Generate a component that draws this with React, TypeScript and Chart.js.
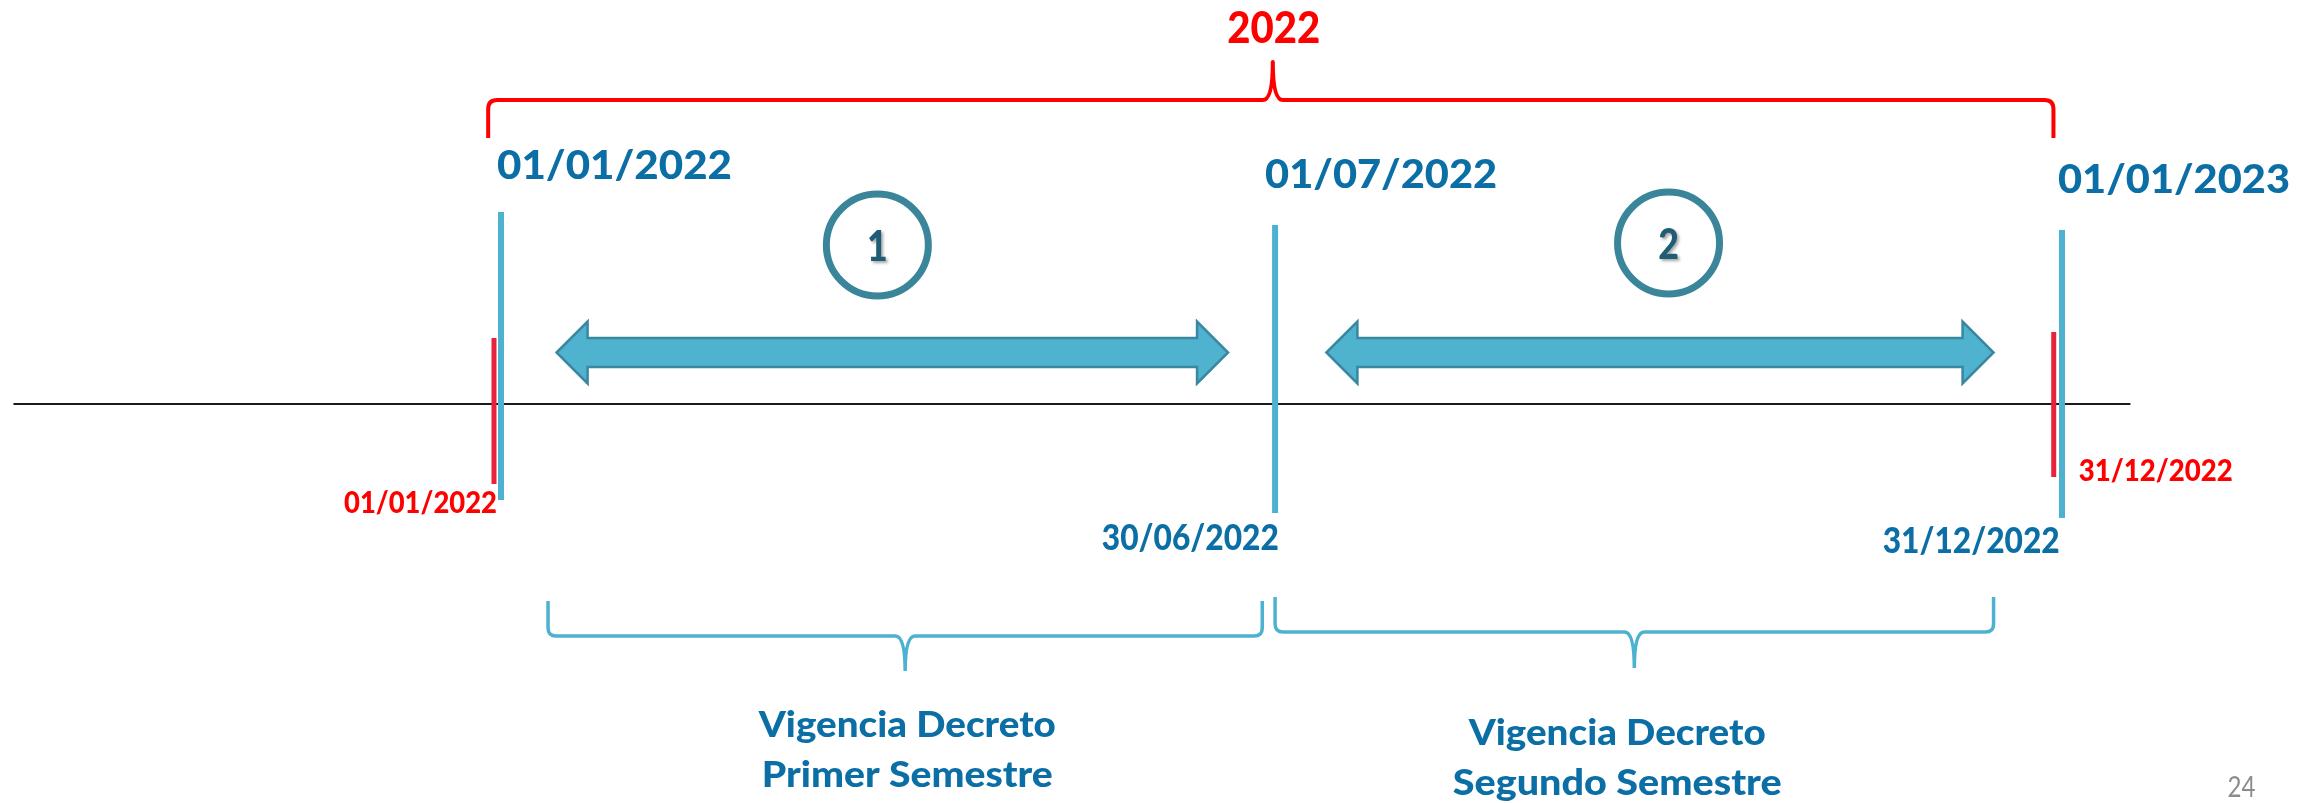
import React, { useEffect, useRef } from "react";
import { Chart, registerables } from "chart.js";
Chart.register(...registerables);

// ---- Data (x values in days of 2022: 0 = 01/01/2022, 365 = 01/01/2023) ----
const boundaryDays = [0, 181, 365];
const boundaryTopLabels = ["01/01/2022", "01/07/2022", "01/01/2023"];
const endDays = [180, 364];
const endLabels = ["30/06/2022", "31/12/2022"];
const yearMarkDays = [0, 364];
const yearMarkLabels = ["01/01/2022", "31/12/2022"];
const yearTitle = "2022";
const yearSpanDays = [-3, 363];
const periodNumbers = ["1", "2"];
const periodCircleDays = [88, 273];
const arrowStartDays = [13, 193];
const arrowEndDays = [170, 349];
const braceStartDays = [11, 181];
const braceEndDays = [178, 349];
const periodLabelDays = [95, 261];
const periodLabelLine1 = ["Vigencia Decreto", "Vigencia Decreto"];
const periodLabelLine2 = ["Primer Semestre", "Segundo Semestre"];
const axisRangeDays = [-114, 381];
const pageNumber = "24";

// ---- Layout / style (y values are in the y scale, 0 = top, 803 = bottom) ----
const W = 2315;
const H = 803;
const FONT = '"Lato", "Open Sans", sans-serif';
const BOLD = "900";
const BLUE = "#0b6fa6";
const LINE_BLUE = "#4db2cf";
const RED = "#ff0000";
const RED_BAR = "#e8223c";
const BASELINE_Y = 404;
const BLUE_LINE_Y = [
  [212, 500],
  [225, 513],
  [230, 518],
];
const RED_LINE_Y = [
  [338, 484],
  [332, 477],
];
const RED_LINE_DX = [-7, -4];
const TOP_LABEL = [
  { dx: -4, base: 179, w: 235 },
  { dx: -10, base: 188, w: 232 },
  { dx: -4, base: 193, w: 232 },
];
const END_LABEL = [
  { dx: 8, base: 550, w: 177 },
  { dx: 2, base: 553, w: 177 },
];
const RED_LABEL = [
  { dx: -4, base: 513, w: 153, align: "right" as CanvasTextAlign },
  { dx: 21, base: 481, w: 154, align: "left" as CanvasTextAlign },
];
const CIRCLE_Y = [245, 243];
const ARROW_Y = 352.5;
const BRACE_Y = [
  { top: 601, mid: 636, tip: 671 },
  { top: 597, mid: 632, tip: 668 },
];
const LABEL_BASE = [
  [737, 787],
  [745, 795],
];
const LABEL_W = [
  [297, 291],
  [297, 329],
];

function fitText(
  ctx: CanvasRenderingContext2D,
  text: string,
  x: number,
  y: number,
  size: number,
  width: number,
  align: CanvasTextAlign,
  color: string,
  weight = BOLD
) {
  ctx.save();
  ctx.font = `${weight} ${size}px ${FONT}`;
  const w = ctx.measureText(text).width || 1;
  ctx.translate(x, y);
  ctx.scale(width / w, 1);
  ctx.textAlign = align;
  ctx.textBaseline = "alphabetic";
  ctx.fillStyle = color;
  ctx.fillText(text, 0, 0);
  ctx.restore();
}

const overlayPlugin = {
  id: "timelineOverlay",
  afterDatasetsDraw(chart: any) {
    const ctx: CanvasRenderingContext2D = chart.ctx;
    const xs = chart.scales.x;
    const ys = chart.scales.y;
    const X = (d: number) => xs.getPixelForValue(d);
    const Y = (v: number) => ys.getPixelForValue(v);

    // Year title + red brace
    fitText(ctx, yearTitle, X((yearSpanDays[0] + yearSpanDays[1]) / 2) + 3, Y(43), 43, 93, "center", RED);
    {
      const xl = X(yearSpanDays[0]);
      const xr = X(yearSpanDays[1]);
      const xm = (xl + xr) / 2 + 2;
      const yEnd = Y(138), yH = Y(100), yP = Y(62);
      const r = 9;
      ctx.save();
      ctx.strokeStyle = RED;
      ctx.lineWidth = 4;
      ctx.lineJoin = "round";
      ctx.beginPath();
      ctx.moveTo(xl, yEnd);
      ctx.lineTo(xl, yH + r);
      ctx.quadraticCurveTo(xl, yH, xl + r, yH);
      ctx.lineTo(xm - 10, yH);
      ctx.quadraticCurveTo(xm, yH, xm, yP);
      ctx.quadraticCurveTo(xm, yH, xm + 10, yH);
      ctx.lineTo(xr - r, yH);
      ctx.quadraticCurveTo(xr, yH, xr, yH + r);
      ctx.lineTo(xr, yEnd);
      ctx.stroke();
      ctx.restore();
    }

    // Top date labels
    boundaryDays.forEach((d, i) => {
      const L = TOP_LABEL[i];
      fitText(ctx, boundaryTopLabels[i], X(d) + L.dx, Y(L.base), 39, L.w, "left", BLUE);
    });
    // Lower blue labels
    endDays.forEach((d, i) => {
      const L = END_LABEL[i];
      fitText(ctx, endLabels[i], X(d) + L.dx, Y(L.base), 36, L.w, "right", BLUE);
    });
    // Red labels
    yearMarkDays.forEach((d, i) => {
      const L = RED_LABEL[i];
      fitText(ctx, yearMarkLabels[i], X(d) + L.dx, Y(L.base), 30, L.w, L.align, RED);
    });

    // Double arrows
    arrowStartDays.forEach((d0, i) => {
      const x1 = X(d0);
      const x2 = X(arrowEndDays[i]);
      const yc = Y(ARROW_Y);
      const sh = 14.5, hh = 31, hl = 31;
      ctx.save();
      ctx.beginPath();
      ctx.moveTo(x1, yc);
      ctx.lineTo(x1 + hl, yc - hh);
      ctx.lineTo(x1 + hl, yc - sh);
      ctx.lineTo(x2 - hl, yc - sh);
      ctx.lineTo(x2 - hl, yc - hh);
      ctx.lineTo(x2, yc);
      ctx.lineTo(x2 - hl, yc + hh);
      ctx.lineTo(x2 - hl, yc + sh);
      ctx.lineTo(x1 + hl, yc + sh);
      ctx.lineTo(x1 + hl, yc + hh);
      ctx.closePath();
      ctx.fillStyle = "#4fb2cf";
      ctx.fill();
      ctx.strokeStyle = "#3a87a0";
      ctx.lineWidth = 2.5;
      ctx.lineJoin = "miter";
      ctx.stroke();
      ctx.restore();
    });

    // Numbered circles
    periodCircleDays.forEach((d, i) => {
      const cx = X(d);
      const cy = Y(CIRCLE_Y[i]);
      ctx.save();
      ctx.beginPath();
      ctx.arc(cx, cy, 51, 0, Math.PI * 2);
      ctx.strokeStyle = "#3a8599";
      ctx.lineWidth = 7;
      ctx.stroke();
      ctx.translate(cx, cy + 16);
      ctx.scale(0.85, 1);
      ctx.font = `${BOLD} 42px ${FONT}`;
      ctx.textAlign = "center";
      ctx.textBaseline = "alphabetic";
      ctx.shadowColor = "rgba(0,0,0,0.35)";
      ctx.shadowOffsetX = 2;
      ctx.shadowOffsetY = 2;
      ctx.shadowBlur = 3;
      ctx.fillStyle = "#1f5d74";
      ctx.fillText(periodNumbers[i], 0, 0);
      ctx.restore();
    });

    // Lower braces
    braceStartDays.forEach((d0, i) => {
      const xl = X(d0);
      const xr = X(braceEndDays[i]);
      const xm = (xl + xr) / 2;
      const B = BRACE_Y[i];
      const yT = Y(B.top), yM = Y(B.mid), yP = Y(B.tip);
      const r = 8;
      ctx.save();
      ctx.strokeStyle = LINE_BLUE;
      ctx.lineWidth = 3.5;
      ctx.beginPath();
      ctx.moveTo(xl, yT);
      ctx.lineTo(xl, yM - r);
      ctx.quadraticCurveTo(xl, yM, xl + r, yM);
      ctx.lineTo(xm - 10, yM);
      ctx.quadraticCurveTo(xm, yM, xm, yP);
      ctx.quadraticCurveTo(xm, yM, xm + 10, yM);
      ctx.lineTo(xr - r, yM);
      ctx.quadraticCurveTo(xr, yM, xr, yM - r);
      ctx.lineTo(xr, yT);
      ctx.stroke();
      ctx.restore();
    });

    // Period labels
    periodLabelDays.forEach((d, i) => {
      const cx = X(d);
      fitText(ctx, periodLabelLine1[i], cx, Y(LABEL_BASE[i][0]), 36, LABEL_W[i][0], "center", BLUE);
      fitText(ctx, periodLabelLine2[i], cx, Y(LABEL_BASE[i][1]), 36, LABEL_W[i][1], "center", BLUE);
    });

    // Page number
    fitText(ctx, pageNumber, X(axisRangeDays[1]) + 97, Y(797), 28, 28, "left", "#8c8c8c", "400");
  },
};

export default function App() {
  const ref = useRef<HTMLCanvasElement>(null);
  useEffect(() => {
    document.body.style.margin = "0";
    document.body.style.overflow = "hidden";
    const canvas = ref.current!;
    const pxPerDay = 1561 / 365;
    const vertical = (d: number, yr: number[], color: string, width: number) => ({
      data: [
        { x: d, y: yr[0] },
        { x: d, y: yr[1] },
      ],
      showLine: true,
      borderColor: color,
      borderWidth: width,
      borderCapStyle: "butt" as const,
      pointRadius: 0,
    });
    const datasets: any[] = [];
    yearMarkDays.forEach((d, i) => {
      // red marks sit just left of the blue boundary lines
      datasets.push(vertical(d + RED_LINE_DX[i] / pxPerDay, RED_LINE_Y[i], RED_BAR, 5));
    });
    boundaryDays.forEach((d, i) => {
      datasets.push(vertical(d, BLUE_LINE_Y[i], LINE_BLUE, 6));
    });
    datasets.push({
      data: [
        { x: axisRangeDays[0], y: BASELINE_Y },
        { x: axisRangeDays[1], y: BASELINE_Y },
      ],
      showLine: true,
      borderColor: "#1a1a1a",
      borderWidth: 2,
      pointRadius: 0,
    });

    const xMin = -501 / pxPerDay;
    const xMax = xMin + W / pxPerDay;

    const chart = new Chart(canvas, {
      type: "scatter",
      data: { datasets },
      options: {
        animation: false,
        responsive: false,
        devicePixelRatio: 1,
        layout: { padding: 0 },
        events: [],
        plugins: {
          legend: { display: false },
          tooltip: { enabled: false },
          title: { display: false },
        },
        scales: {
          x: { type: "linear", min: xMin, max: xMax, display: false },
          y: { type: "linear", min: 0, max: H, reverse: true, display: false },
        },
      },
      plugins: [overlayPlugin],
    });
    return () => chart.destroy();
  }, []);
  return (
    <div style={{ width: W, height: H, background: "#ffffff" }}>
      <canvas ref={ref} width={W} height={H} style={{ display: "block", width: W, height: H }} />
    </div>
  );
}
